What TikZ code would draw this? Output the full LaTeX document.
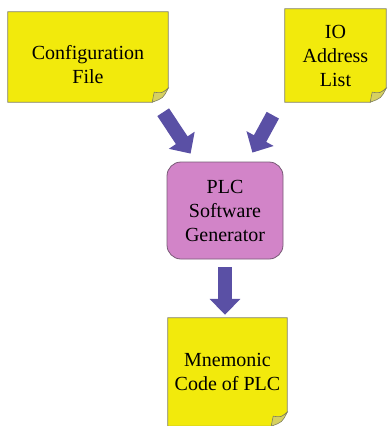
\documentclass[tikz,border=0pt]{standalone}
\usepackage{fontspec}
\setmainfont{Liberation Serif}
\usetikzlibrary{arrows.meta,backgrounds}
\definecolor{noteyellow}{RGB}{242,234,12}
\definecolor{noteedge}{RGB}{128,128,96}
\definecolor{curlfill}{RGB}{214,208,96}
\definecolor{plcpink}{RGB}{210,132,200}
\definecolor{plcedge}{RGB}{120,90,118}
\definecolor{arrowblue}{RGB}{90,80,165}
\tikzset{
  note/.style={minimum width=#1, inner sep=0pt, align=center, font=\fontsize{20}{24}\selectfont},
  notebody/.style={fill=noteyellow, draw=noteedge, line width=0.8pt},
  notecurl/.style={fill=curlfill, draw=noteedge, line width=0.6pt},
  plcbox/.style={fill=plcpink, draw=plcedge, line width=0.8pt, rounded corners=14pt,
    minimum width=116pt, minimum height=97pt, align=center, font=\fontsize{20}{24}\selectfont},
  bigarrow/.style={arrowblue, line width=14pt, -{Triangle[width=30pt,length=16pt]}}
}
\begin{document}
\begin{tikzpicture}[x=1pt,y=-1pt]
    \useasboundingbox (0,0) rectangle (389,426);

    % Notas de entrada
    \node[note=160pt, minimum height=90pt, text height=54pt] (cfg) at (88,57) {Configuration\\File};
    \node[note=101pt, minimum height=93pt] (io) at (335.5,55.5) {IO\\Address\\List};

    % Generador
    \node[plcbox] (plc) at (225,210.5) {PLC\\Software\\Generator};

    % Nota de salida
    \node[note=119pt, minimum height=108pt] (mne) at (227.5,372) {Mnemonic\\Code of PLC};

    % Hojas con esquina doblada
    \begin{scope}[on background layer]
    \foreach \n in {cfg,io,mne} {
        \filldraw[notebody] (\n.north west) -- (\n.north east) -- ([yshift=14pt]\n.south east)
            -- ([xshift=-16pt]\n.south east) -- (\n.south west) -- cycle;
        \filldraw[notecurl] ([yshift=14pt]\n.south east) .. controls ([xshift=-6pt,yshift=9pt]\n.south east)
            .. ([xshift=-14pt,yshift=10pt]\n.south east) -- ([xshift=-16pt]\n.south east)
            .. controls ([xshift=-5pt,yshift=4pt]\n.south east) .. cycle;
    }
    \end{scope}

    % Flechas
    \draw[bigarrow] ([xshift=-5pt,yshift=-10pt]cfg.south east) -- ([xshift=24pt,yshift=8pt]plc.north west);
    \draw[bigarrow] ([xshift=-12pt,yshift=-13pt]io.south west) -- ([xshift=-31pt,yshift=9pt]plc.north east);
    \draw[bigarrow, shorten <=8pt, shorten >=3pt] (plc.south) -- (plc.south |- mne.north);
\end{tikzpicture}
\end{document}
